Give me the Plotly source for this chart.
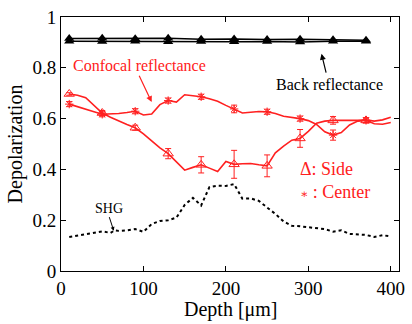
import plotly.graph_objects as go

# Marker depths
mk_x = [10, 50, 90, 130, 170, 210, 250, 290, 330, 370]

# Back reflectance (two near-identical curves)
back1 = [0.915, 0.916, 0.914, 0.916, 0.912, 0.913, 0.911, 0.912, 0.910, 0.908]
back2 = [0.905, 0.904, 0.905, 0.903, 0.904, 0.903, 0.904, 0.902, 0.905, 0.905]

# Confocal reflectance, smoothed curves
line_x = list(range(10, 401, 10))
center_line = [0.657, 0.648, 0.638, 0.627, 0.617, 0.618, 0.620, 0.624, 0.629, 0.614,
               0.618, 0.655, 0.671, 0.665, 0.694, 0.690, 0.686, 0.678, 0.668, 0.652,
               0.638, 0.622, 0.625, 0.628, 0.627, 0.620, 0.609, 0.605, 0.600, 0.592,
               0.577, 0.548, 0.535, 0.545, 0.575, 0.590, 0.593, 0.580, 0.578, 0.585]
side_line = [0.697, 0.692, 0.682, 0.650, 0.622, 0.605, 0.590, 0.577, 0.564, 0.540,
             0.512, 0.485, 0.462, 0.430, 0.397, 0.408, 0.418, 0.405, 0.392, 0.431,
             0.420, 0.422, 0.423, 0.418, 0.414, 0.465, 0.492, 0.515, 0.522, 0.550,
             0.582, 0.590, 0.593, 0.593, 0.592, 0.593, 0.595, 0.590, 0.595, 0.605]

# Marker values and error bars
center_mk = [0.657, 0.617, 0.629, 0.671, 0.686, 0.638, 0.627, 0.600, 0.535, 0.593]
center_err = [0.01, 0.01, 0.01, 0.01, 0.01, 0.015, 0.01, 0.01, 0.02, 0.01]
side_mk = [0.697, 0.622, 0.564, 0.462, 0.418, 0.420, 0.414, 0.522, 0.593, 0.593]
side_err = [0.005, 0.01, 0.01, 0.02, 0.032, 0.055, 0.043, 0.035, 0.015, 0.01]

# SHG
shg_x = [10, 20, 30, 40, 50, 60, 65, 70, 80, 90, 100, 110, 120, 130, 140, 150, 160, 170,
         180, 190, 200, 210, 220, 230, 240, 250, 260, 270, 280, 290, 300, 310, 320, 330,
         340, 350, 360, 370, 380, 390, 398]
shg_y = [0.134, 0.140, 0.146, 0.150, 0.156, 0.150, 0.160, 0.158, 0.160, 0.165, 0.154,
         0.185, 0.197, 0.200, 0.210, 0.260, 0.288, 0.258, 0.330, 0.336, 0.335, 0.342,
         0.285, 0.286, 0.276, 0.250, 0.225, 0.195, 0.178, 0.176, 0.173, 0.170, 0.165,
         0.155, 0.160, 0.146, 0.143, 0.142, 0.134, 0.141, 0.137]

RED = "#ff2020"
FONT = "Liberation Serif, DejaVu Serif, serif"

fig = go.Figure()
for b in (back1, back2):
    fig.add_trace(go.Scatter(x=mk_x, y=b, mode="lines+markers",
                             line=dict(color="black", width=1.5),
                             marker=dict(symbol="triangle-up", size=9, color="black")))

fig.add_trace(go.Scatter(x=line_x, y=center_line, mode="lines",
                         line=dict(color=RED, width=1.6)))
fig.add_trace(go.Scatter(x=line_x, y=side_line, mode="lines",
                         line=dict(color=RED, width=1.6)))
fig.add_trace(go.Scatter(x=mk_x, y=center_mk, mode="markers",
                         marker=dict(symbol="asterisk-open", size=7, color=RED,
                                     line=dict(color=RED, width=1)),
                         error_y=dict(type="data", array=center_err, color=RED,
                                      thickness=1, width=3)))
fig.add_trace(go.Scatter(x=mk_x, y=side_mk, mode="markers",
                         marker=dict(symbol="triangle-up-open", size=9, color=RED,
                                     line=dict(color=RED, width=1)),
                         error_y=dict(type="data", array=side_err, color=RED,
                                      thickness=1, width=3)))
fig.add_trace(go.Scatter(x=shg_x, y=shg_y, mode="lines",
                         line=dict(color="black", width=2, dash="dot")))

ann = []
ann.append(dict(x=95, y=0.81, text="Confocal reflectance", showarrow=False,
                font=dict(color=RED, size=16, family=FONT)))
ann.append(dict(x=110, y=0.665, ax=94, ay=0.775, xref="x", yref="y", axref="x", ayref="y",
                showarrow=True, arrowhead=2, arrowsize=1, arrowwidth=1.2,
                arrowcolor=RED, text=""))
ann.append(dict(x=326, y=0.735, text="Back reflectance", showarrow=False,
                font=dict(color="black", size=16, family=FONT)))
ann.append(dict(x=316, y=0.855, ax=322, ay=0.775, xref="x", yref="y", axref="x", ayref="y",
                showarrow=True, arrowhead=2, arrowsize=1, arrowwidth=1.2,
                arrowcolor="black", text=""))
ann.append(dict(x=58, y=0.245, text="SHG", showarrow=False,
                font=dict(color="black", size=14, family=FONT)))
ann.append(dict(x=64, y=0.158, ax=58, ay=0.218, xref="x", yref="y", axref="x", ayref="y",
                showarrow=True, arrowhead=2, arrowsize=0.8, arrowwidth=1,
                arrowcolor="black", text=""))
ann.append(dict(x=288, y=0.4, text="\u0394: Side", showarrow=False, xanchor="left",
                font=dict(color=RED, size=18, family=FONT)))
ann.append(dict(x=288, y=0.313,
                text="<span style='font-size:12px'>\u2217</span> : Center",
                showarrow=False, xanchor="left",
                font=dict(color=RED, size=18, family=FONT)))
ann.append(dict(x=0.5, y=-0.152, xref="paper", yref="paper", showarrow=False,
                text="Depth [\u03bcm]", yanchor="middle",
                font=dict(size=20, family=FONT, color="black")))

axis_common = dict(showline=True, linecolor="black", linewidth=1, mirror="ticks",
                   ticks="inside", ticklen=5, tickcolor="black", showgrid=False,
                   zeroline=False, tickfont=dict(size=19, family=FONT, color="black"))

fig.update_layout(
    width=412, height=324,
    margin=dict(l=61, r=7, t=15, b=53),
    paper_bgcolor="white", plot_bgcolor="white",
    font=dict(family=FONT),
    showlegend=False,
    annotations=ann,
    xaxis=dict(range=[0, 410], tickvals=[0, 100, 200, 300, 400], **axis_common),
    yaxis=dict(range=[0, 1], tickvals=[0, 0.2, 0.4, 0.6, 0.8, 1],
               ticktext=["0", "0.2", "0.4", "0.6", "0.8", "1"],
               title=dict(text="Depolarization", font=dict(size=20, family=FONT, color="black"),
                          standoff=4),
               **axis_common),
)

fig.write_html("out.html")
